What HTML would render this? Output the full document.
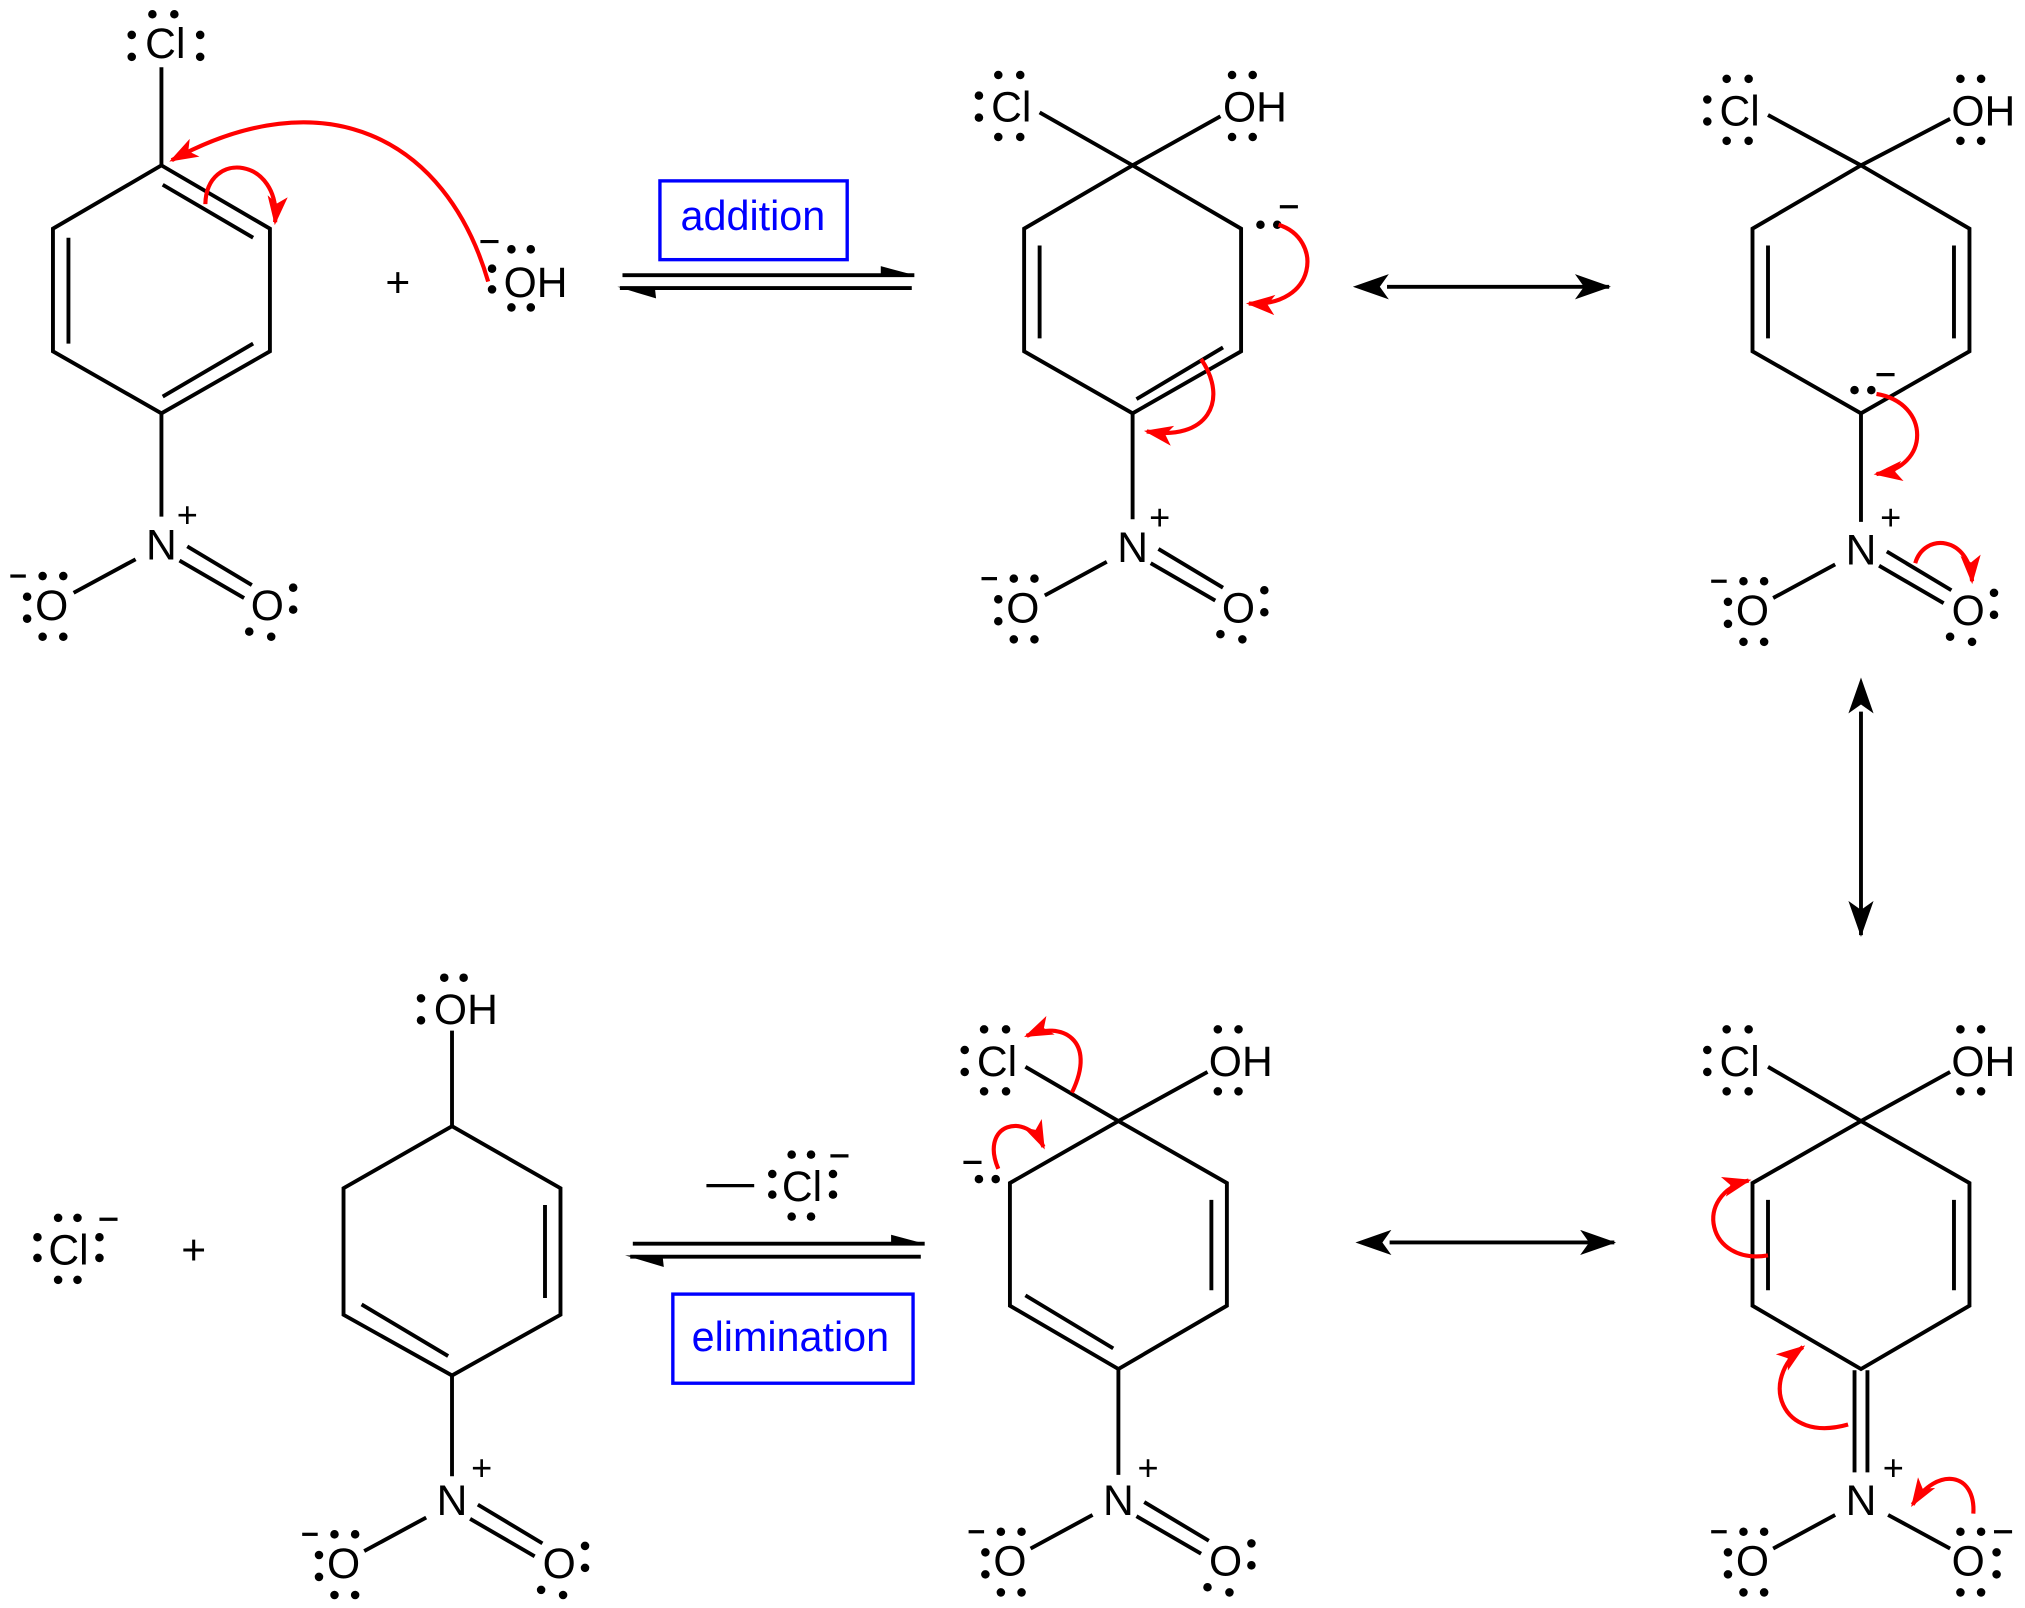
<!DOCTYPE html>
<html><head><meta charset="utf-8"><style>
html,body{margin:0;padding:0;background:#fff;}
svg{display:block;}
text{font-family:"Liberation Sans",Arial,sans-serif;font-size:33px;fill:#000;}
text[font-size="26"]{font-size:28px;}
.b{stroke:#000;stroke-width:3;fill:none;stroke-linecap:butt;}
.r{stroke:#f00;stroke-width:3.2;fill:none;marker-end:url(#rh);}
.bl{fill:#00f;font-size:32px;}
.box{stroke:#00f;stroke-width:2.6;fill:none;}
</style></head><body>
<svg width="2025" height="1608" viewBox="0 0 1568 1245" xmlns="http://www.w3.org/2000/svg">
<defs>
<marker id="rh" viewBox="0 0 20 14" refX="18" refY="7" markerWidth="7" markerHeight="5" orient="auto" markerUnits="strokeWidth">
<path d="M0,0 L20,7 L0,14 L5,7 Z" fill="#f00"/></marker>
<marker id="bh" viewBox="0 0 20 14" refX="19" refY="7" markerWidth="10" markerHeight="6.5" orient="auto" markerUnits="strokeWidth">
<path d="M0,0 L20,7 L0,14 L5,7 Z" fill="#000"/></marker>
<marker id="bhs" viewBox="0 0 20 14" refX="1" refY="7" markerWidth="10" markerHeight="6.5" orient="auto-start-reverse" markerUnits="strokeWidth">
<path d="M0,0 L20,7 L0,14 L5,7 Z" fill="#000"/></marker>
</defs>

<!-- ===== Molecule 1 ===== -->
<g>
<path class="b" d="M125,128 L209,177 L209,272 L125,320 L41,272 L41,177 Z"/>
<line class="b" x1="126" y1="143" x2="196" y2="184"/>
<line class="b" x1="53" y1="184" x2="53" y2="266"/>
<line class="b" x1="126" y1="307" x2="196" y2="266"/>
<line class="b" x1="125" y1="128" x2="125" y2="52"/>
<text x="128" y="45" text-anchor="middle">Cl</text>
<g fill="#000"><circle cx="118" cy="11" r="3.3"/><circle cx="135" cy="11" r="3.3"/><circle cx="102" cy="27" r="3.3"/><circle cx="102" cy="44" r="3.3"/><circle cx="155" cy="27" r="3.3"/><circle cx="155" cy="44" r="3.3"/></g>
<line class="b" x1="125" y1="320" x2="125" y2="400"/>
<text x="125" y="433" text-anchor="middle">N</text><text x="145" y="408" text-anchor="middle" font-size="26">+</text>
<line class="b" x1="105" y1="433" x2="57" y2="459"/>
<line class="b" x1="145" y1="423" x2="195" y2="453"/>
<line class="b" x1="139" y1="434" x2="189" y2="463"/>
<text x="40" y="480" text-anchor="middle">O</text>
<text x="207" y="480" text-anchor="middle">O</text>
<line x1="8" y1="446" x2="20" y2="446" stroke="#000" stroke-width="2.5"/>
<g fill="#000"><circle cx="33" cy="446" r="3.3"/><circle cx="49" cy="446" r="3.3"/><circle cx="21" cy="462" r="3.3"/><circle cx="21" cy="479" r="3.3"/><circle cx="33" cy="493" r="3.3"/><circle cx="49" cy="493" r="3.3"/>
<circle cx="227" cy="455" r="3.3"/><circle cx="227" cy="472" r="3.3"/><circle cx="193" cy="489" r="3.3"/><circle cx="210" cy="493" r="3.3"/></g>
</g>
<text x="308" y="230" text-anchor="middle">+</text>
<text x="390" y="230">OH</text>
<line x1="372" y1="187" x2="386" y2="187" stroke="#000" stroke-width="2.5"/>
<g fill="#000"><circle cx="396" cy="193" r="3.3"/><circle cx="411" cy="193" r="3.3"/><circle cx="381" cy="208" r="3.3"/><circle cx="381" cy="224" r="3.3"/><circle cx="396" cy="238" r="3.3"/><circle cx="411" cy="238" r="3.3"/></g>
<path class="r" d="M378,218 C345,105 250,60 133,124"/>
<path class="r" d="M159,158 C160,115 218,122 213,172"/>

<!-- equilibrium top -->
<line class="b" x1="482" y1="213" x2="708" y2="213"/>
<path d="M682,206 L708,213 L682,214 Z" fill="#000"/>
<line class="b" x1="480" y1="223" x2="706" y2="223"/>
<path d="M478,222 L507,222 L508,231 Z" fill="#000"/>
<rect class="box" x="511" y="140" width="145" height="61"/>
<text class="bl" x="583" y="178" text-anchor="middle">addition</text>

<!-- ===== Molecule 2 ===== -->
<g>
<path class="b" d="M877,128 L961,177 L961,272 L877,320 L793,272 L793,177 Z"/>
<line class="b" x1="805" y1="190" x2="805" y2="262"/>
<line class="b" x1="880" y1="309" x2="947" y2="269"/>
<line class="b" x1="805" y1="87" x2="877" y2="128"/>
<line class="b" x1="877" y1="128" x2="945" y2="90"/>
<text x="783" y="94" text-anchor="middle">Cl</text>
<g fill="#000"><circle cx="773" cy="58" r="3.3"/><circle cx="790" cy="58" r="3.3"/><circle cx="758" cy="74" r="3.3"/><circle cx="758" cy="91" r="3.3"/><circle cx="773" cy="106" r="3.3"/><circle cx="790" cy="106" r="3.3"/></g>
<text x="947" y="94">OH</text>
<g fill="#000"><circle cx="954" cy="58" r="3.3"/><circle cx="970" cy="58" r="3.3"/><circle cx="954" cy="106" r="3.3"/><circle cx="970" cy="106" r="3.3"/></g>
<g fill="#000"><circle cx="976" cy="174" r="3.3"/><circle cx="989" cy="174" r="3.3"/></g>
<line x1="991" y1="160" x2="1005" y2="160" stroke="#000" stroke-width="2.5"/>
<path class="r" d="M990,174 C1025,185 1020,238 967,235"/>
<path class="r" d="M930,278 C952,310 935,342 888,334"/>
<line class="b" x1="877" y1="320" x2="877" y2="402"/>
<text x="877" y="435" text-anchor="middle">N</text><text x="898" y="410" text-anchor="middle" font-size="26">+</text>
<line class="b" x1="857" y1="435" x2="809" y2="461"/>
<line class="b" x1="897" y1="425" x2="947" y2="455"/>
<line class="b" x1="891" y1="436" x2="941" y2="465"/>
<text x="792" y="482" text-anchor="middle">O</text>
<text x="959" y="482" text-anchor="middle">O</text>
<line x1="760" y1="448" x2="772" y2="448" stroke="#000" stroke-width="2.5"/>
<g fill="#000"><circle cx="785" cy="448" r="3.3"/><circle cx="801" cy="448" r="3.3"/><circle cx="773" cy="464" r="3.3"/><circle cx="773" cy="481" r="3.3"/><circle cx="785" cy="495" r="3.3"/><circle cx="801" cy="495" r="3.3"/>
<circle cx="979" cy="457" r="3.3"/><circle cx="979" cy="474" r="3.3"/><circle cx="945" cy="491" r="3.3"/><circle cx="962" cy="495" r="3.3"/></g>
</g>

<line class="b" x1="1074" y1="222" x2="1246" y2="222" marker-end="url(#bh)" marker-start="url(#bhs)"/>

<!-- ===== Molecule 3 ===== -->
<g>
<path class="b" d="M1441,128 L1525,177 L1525,272 L1441,320 L1357,272 L1357,177 Z"/>
<line class="b" x1="1369" y1="190" x2="1369" y2="262"/>
<line class="b" x1="1513" y1="190" x2="1513" y2="262"/>
<line class="b" x1="1369" y1="89" x2="1441" y2="128"/>
<line class="b" x1="1441" y1="128" x2="1510" y2="92"/>
<text x="1347" y="97" text-anchor="middle">Cl</text>
<g fill="#000"><circle cx="1337" cy="61" r="3.3"/><circle cx="1354" cy="61" r="3.3"/><circle cx="1322" cy="77" r="3.3"/><circle cx="1322" cy="94" r="3.3"/><circle cx="1337" cy="109" r="3.3"/><circle cx="1354" cy="109" r="3.3"/></g>
<text x="1511" y="97">OH</text>
<g fill="#000"><circle cx="1518" cy="61" r="3.3"/><circle cx="1534" cy="61" r="3.3"/><circle cx="1518" cy="109" r="3.3"/><circle cx="1534" cy="109" r="3.3"/></g>
<g fill="#000"><circle cx="1436" cy="302" r="3.3"/><circle cx="1449" cy="302" r="3.3"/></g>
<line x1="1453" y1="290" x2="1467" y2="290" stroke="#000" stroke-width="2.5"/>
<path class="r" d="M1453,305 C1495,312 1495,362 1453,367"/>
<line class="b" x1="1441" y1="320" x2="1441" y2="404"/>
<text x="1441" y="437" text-anchor="middle">N</text><text x="1464" y="410" text-anchor="middle" font-size="26">+</text>
<line class="b" x1="1421" y1="437" x2="1373" y2="463"/>
<line class="b" x1="1461" y1="427" x2="1511" y2="457"/>
<line class="b" x1="1455" y1="438" x2="1505" y2="467"/>
<text x="1357" y="484" text-anchor="middle">O</text>
<text x="1524" y="484" text-anchor="middle">O</text>
<line x1="1325" y1="450" x2="1337" y2="450" stroke="#000" stroke-width="2.5"/>
<g fill="#000"><circle cx="1350" cy="450" r="3.3"/><circle cx="1366" cy="450" r="3.3"/><circle cx="1338" cy="466" r="3.3"/><circle cx="1338" cy="483" r="3.3"/><circle cx="1350" cy="497" r="3.3"/><circle cx="1366" cy="497" r="3.3"/>
<circle cx="1544" cy="459" r="3.3"/><circle cx="1544" cy="476" r="3.3"/><circle cx="1510" cy="493" r="3.3"/><circle cx="1527" cy="497" r="3.3"/></g>
<path class="r" d="M1483,436 C1490,412 1525,415 1527,450"/>
</g>

<line class="b" x1="1441" y1="551" x2="1441" y2="724" marker-end="url(#bh)" marker-start="url(#bhs)"/>

<!-- ===== Molecule 4 ===== -->
<g>
<path class="b" d="M1441,868 L1525,916 L1525,1011 L1441,1060 L1357,1011 L1357,916 Z"/>
<line class="b" x1="1369" y1="929" x2="1369" y2="999"/>
<line class="b" x1="1513" y1="929" x2="1513" y2="999"/>
<line class="b" x1="1369" y1="826" x2="1441" y2="868"/>
<line class="b" x1="1441" y1="868" x2="1510" y2="830"/>
<text x="1347" y="833" text-anchor="middle">Cl</text>
<g fill="#000"><circle cx="1337" cy="797" r="3.3"/><circle cx="1354" cy="797" r="3.3"/><circle cx="1322" cy="813" r="3.3"/><circle cx="1322" cy="830" r="3.3"/><circle cx="1337" cy="845" r="3.3"/><circle cx="1354" cy="845" r="3.3"/></g>
<text x="1511" y="833">OH</text>
<g fill="#000"><circle cx="1518" cy="797" r="3.3"/><circle cx="1534" cy="797" r="3.3"/><circle cx="1518" cy="845" r="3.3"/><circle cx="1534" cy="845" r="3.3"/></g>
<line class="b" x1="1436" y1="1061" x2="1436" y2="1140"/>
<line class="b" x1="1446" y1="1061" x2="1446" y2="1140"/>
<text x="1441" y="1173" text-anchor="middle">N</text><text x="1466" y="1146" text-anchor="middle" font-size="26">+</text>
<line class="b" x1="1421" y1="1173" x2="1373" y2="1199"/>
<line class="b" x1="1462" y1="1173" x2="1510" y2="1199"/>
<text x="1357" y="1220" text-anchor="middle">O</text>
<text x="1524" y="1220" text-anchor="middle">O</text>
<line x1="1325" y1="1186" x2="1337" y2="1186" stroke="#000" stroke-width="2.5"/>
<line x1="1544" y1="1186" x2="1558" y2="1186" stroke="#000" stroke-width="2.5"/>
<g fill="#000"><circle cx="1350" cy="1186" r="3.3"/><circle cx="1366" cy="1186" r="3.3"/><circle cx="1338" cy="1202" r="3.3"/><circle cx="1338" cy="1219" r="3.3"/><circle cx="1350" cy="1233" r="3.3"/><circle cx="1366" cy="1233" r="3.3"/>
<circle cx="1518" cy="1186" r="3.3"/><circle cx="1534" cy="1186" r="3.3"/><circle cx="1546" cy="1202" r="3.3"/><circle cx="1546" cy="1219" r="3.3"/><circle cx="1518" cy="1233" r="3.3"/><circle cx="1534" cy="1233" r="3.3"/></g>
<path class="r" d="M1369,972 C1322,980 1310,925 1354,914"/>
<path class="r" d="M1431,1103 C1378,1118 1362,1068 1396,1043"/>
<path class="r" d="M1528,1172 C1530,1140 1500,1135 1481,1165"/>
</g>

<line class="b" x1="1076" y1="962" x2="1250" y2="962" marker-end="url(#bh)" marker-start="url(#bhs)"/>

<!-- ===== Molecule 5 ===== -->
<g>
<path class="b" d="M866,868 L950,916 L950,1011 L866,1060 L782,1011 L782,916 Z"/>
<line class="b" x1="938" y1="929" x2="938" y2="999"/>
<line class="b" x1="794" y1="1003" x2="862" y2="1044"/>
<line class="b" x1="794" y1="826" x2="866" y2="868"/>
<line class="b" x1="866" y1="868" x2="935" y2="830"/>
<text x="772" y="833" text-anchor="middle">Cl</text>
<g fill="#000"><circle cx="762" cy="797" r="3.3"/><circle cx="779" cy="797" r="3.3"/><circle cx="747" cy="813" r="3.3"/><circle cx="747" cy="830" r="3.3"/><circle cx="762" cy="845" r="3.3"/><circle cx="779" cy="845" r="3.3"/></g>
<text x="936" y="833">OH</text>
<g fill="#000"><circle cx="943" cy="797" r="3.3"/><circle cx="959" cy="797" r="3.3"/><circle cx="943" cy="845" r="3.3"/><circle cx="959" cy="845" r="3.3"/></g>
<g fill="#000"><circle cx="758" cy="913" r="3.3"/><circle cx="771" cy="913" r="3.3"/></g>
<line x1="746" y1="900" x2="760" y2="900" stroke="#000" stroke-width="2.5"/>
<path class="r" d="M773,905 C758,870 795,860 808,888"/>
<path class="r" d="M830,846 C850,805 822,790 795,802"/>
<line class="b" x1="866" y1="1060" x2="866" y2="1142"/>
<text x="866" y="1173" text-anchor="middle">N</text><text x="889" y="1146" text-anchor="middle" font-size="26">+</text>
<line class="b" x1="846" y1="1173" x2="798" y2="1199"/>
<line class="b" x1="886" y1="1163" x2="936" y2="1193"/>
<line class="b" x1="880" y1="1174" x2="930" y2="1203"/>
<text x="782" y="1220" text-anchor="middle">O</text>
<text x="949" y="1220" text-anchor="middle">O</text>
<line x1="750" y1="1186" x2="762" y2="1186" stroke="#000" stroke-width="2.5"/>
<g fill="#000"><circle cx="775" cy="1186" r="3.3"/><circle cx="791" cy="1186" r="3.3"/><circle cx="763" cy="1202" r="3.3"/><circle cx="763" cy="1219" r="3.3"/><circle cx="775" cy="1233" r="3.3"/><circle cx="791" cy="1233" r="3.3"/>
<circle cx="969" cy="1195" r="3.3"/><circle cx="969" cy="1212" r="3.3"/><circle cx="935" cy="1229" r="3.3"/><circle cx="952" cy="1233" r="3.3"/></g>
</g>

<!-- equilibrium bottom -->
<line class="b" x1="490" y1="963" x2="716" y2="963"/>
<path d="M690,956 L716,963 L690,964 Z" fill="#000"/>
<line class="b" x1="488" y1="973" x2="713" y2="973"/>
<path d="M484,972 L513,972 L514,981 Z" fill="#000"/>
<line x1="547" y1="918" x2="584" y2="918" stroke="#000" stroke-width="2.5"/>
<text x="621" y="930" text-anchor="middle">Cl</text>
<g fill="#000"><circle cx="613" cy="894" r="3.3"/><circle cx="628" cy="894" r="3.3"/><circle cx="598" cy="909" r="3.3"/><circle cx="598" cy="925" r="3.3"/><circle cx="645" cy="909" r="3.3"/><circle cx="645" cy="925" r="3.3"/><circle cx="613" cy="942" r="3.3"/><circle cx="628" cy="942" r="3.3"/></g>
<line x1="643" y1="895" x2="657" y2="895" stroke="#000" stroke-width="2.5"/>
<rect class="box" x="521" y="1002" width="186" height="69"/>
<text class="bl" x="612" y="1046" text-anchor="middle">elimination</text>

<!-- ===== Molecule 6 ===== -->
<g>
<path class="b" d="M350,872 L434,920 L434,1018 L350,1065 L266,1018 L266,920 Z"/>
<line class="b" x1="422" y1="933" x2="422" y2="1005"/>
<line class="b" x1="280" y1="1010" x2="347" y2="1050"/>
<line class="b" x1="350" y1="872" x2="350" y2="798"/>
<text x="336" y="793">OH</text>
<g fill="#000"><circle cx="344" cy="757" r="3.3"/><circle cx="359" cy="757" r="3.3"/><circle cx="326" cy="773" r="3.3"/><circle cx="326" cy="790" r="3.3"/></g>
<line class="b" x1="350" y1="1065" x2="350" y2="1143"/>
<text x="350" y="1173" text-anchor="middle">N</text><text x="373" y="1146" text-anchor="middle" font-size="26">+</text>
<line class="b" x1="330" y1="1175" x2="282" y2="1201"/>
<line class="b" x1="370" y1="1165" x2="420" y2="1195"/>
<line class="b" x1="364" y1="1176" x2="414" y2="1205"/>
<text x="266" y="1222" text-anchor="middle">O</text>
<text x="433" y="1222" text-anchor="middle">O</text>
<line x1="234" y1="1188" x2="246" y2="1188" stroke="#000" stroke-width="2.5"/>
<g fill="#000"><circle cx="259" cy="1188" r="3.3"/><circle cx="275" cy="1188" r="3.3"/><circle cx="247" cy="1204" r="3.3"/><circle cx="247" cy="1221" r="3.3"/><circle cx="259" cy="1235" r="3.3"/><circle cx="275" cy="1235" r="3.3"/>
<circle cx="453" cy="1197" r="3.3"/><circle cx="453" cy="1214" r="3.3"/><circle cx="419" cy="1231" r="3.3"/><circle cx="436" cy="1235" r="3.3"/></g>
</g>

<!-- Cl- + -->
<text x="53" y="979" text-anchor="middle">Cl</text>
<g fill="#000"><circle cx="45" cy="943" r="3.3"/><circle cx="60" cy="943" r="3.3"/><circle cx="29" cy="958" r="3.3"/><circle cx="29" cy="974" r="3.3"/><circle cx="77" cy="958" r="3.3"/><circle cx="77" cy="974" r="3.3"/><circle cx="45" cy="991" r="3.3"/><circle cx="60" cy="991" r="3.3"/></g>
<line x1="77" y1="944" x2="91" y2="944" stroke="#000" stroke-width="2.5"/>
<text x="150" y="979" text-anchor="middle">+</text>
</svg>
</body></html>
